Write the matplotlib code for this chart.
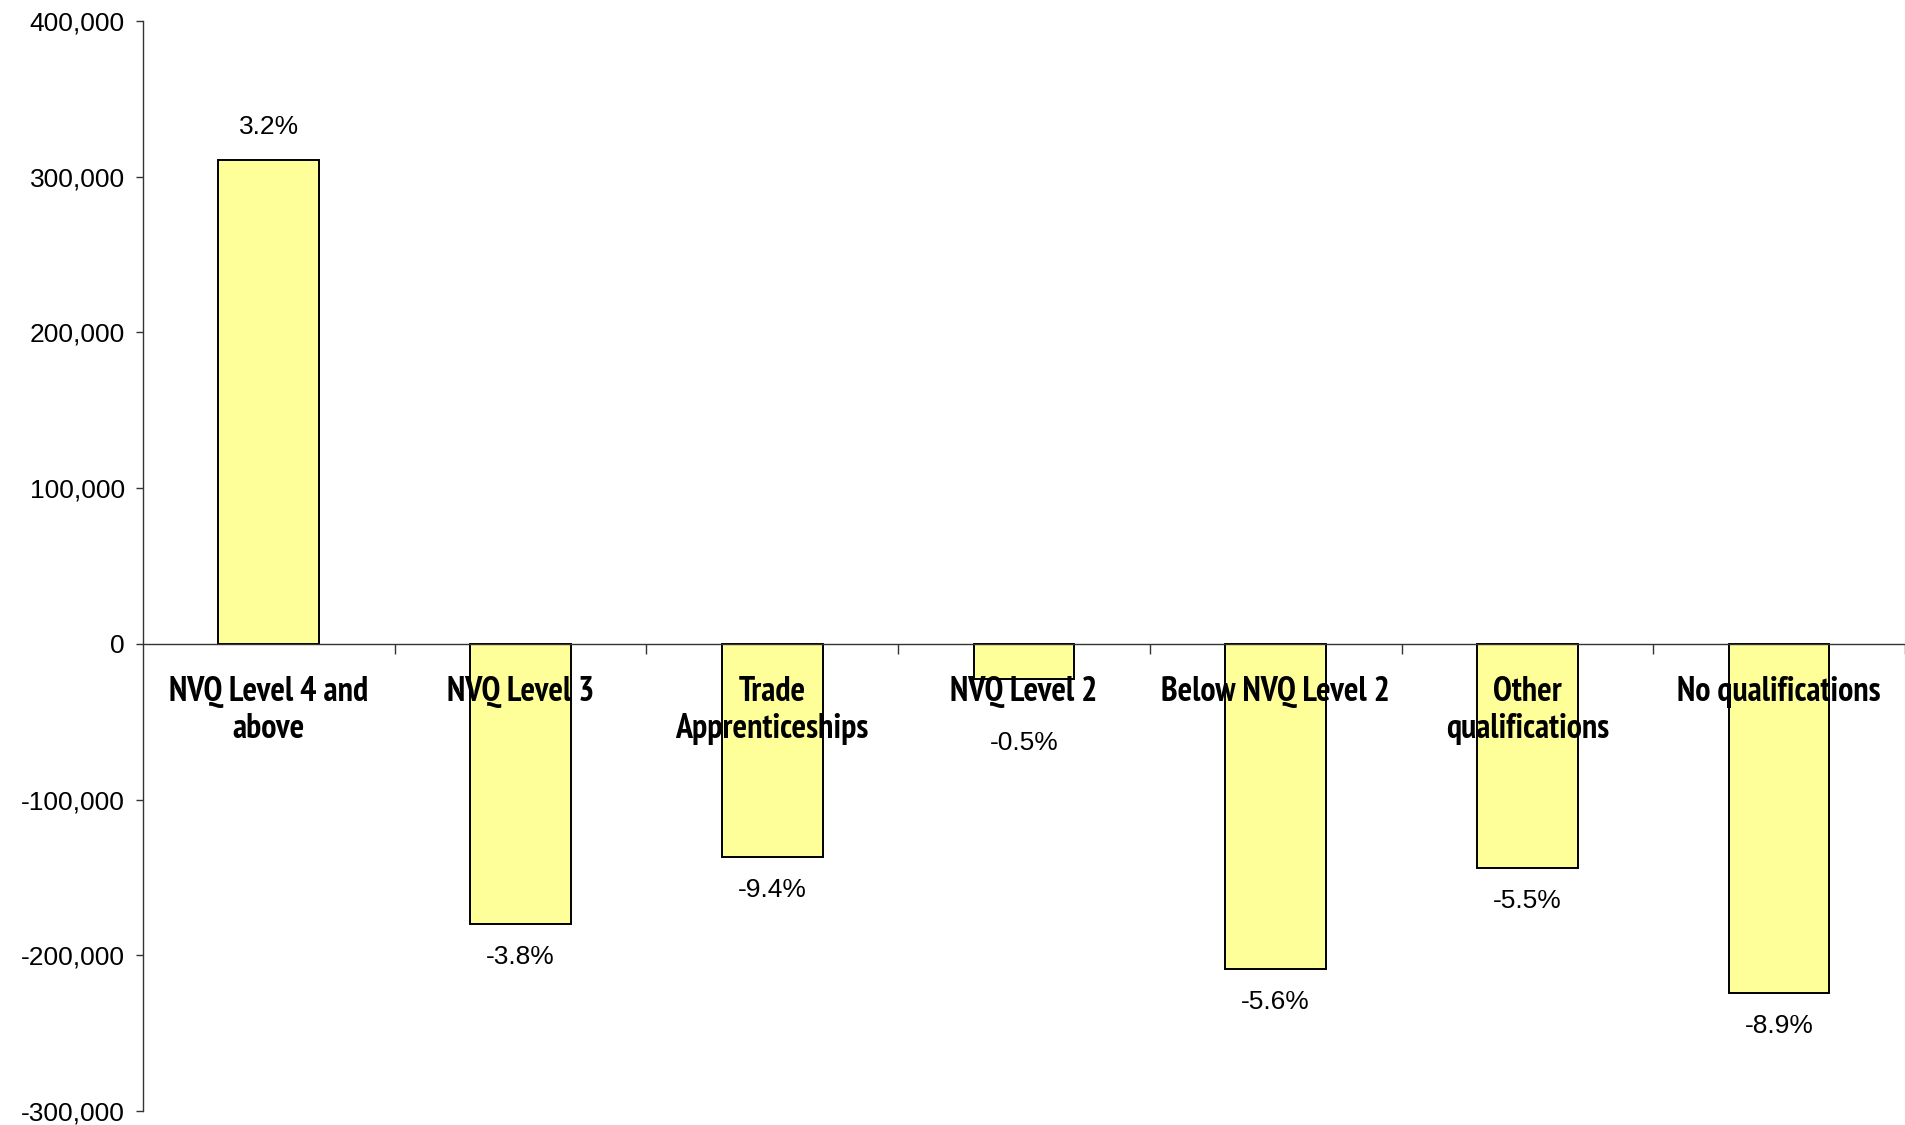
import matplotlib
matplotlib.use("Agg")
import matplotlib.pyplot as plt
from matplotlib.ticker import FuncFormatter, FixedLocator

CATEGORIES = [
    "NVQ Level 4 and\nabove",
    "NVQ Level 3",
    "Trade\nApprenticeships",
    "NVQ Level 2",
    "Below NVQ Level 2",
    "Other\nqualifications",
    "No qualifications",
]
CHANGE = [311000, -180000, -137000, -22500, -209000, -144000, -224500]
PCT_LABELS = ["3.2%", "-3.8%", "-9.4%", "-0.5%", "-5.6%", "-5.5%", "-8.9%"]
YTICKS = [-300000, -200000, -100000, 0, 100000, 200000, 300000, 400000]

PX = 72 / 100  # points per pixel at dpi=100
NARROW = ["Liberation Sans Narrow", "PT Sans Narrow", "Pragati Narrow", "Liberation Sans"]

plt.rcParams["font.family"] = ["Liberation Sans", "DejaVu Sans"]

fig = plt.figure(figsize=(19.05, 11.25), dpi=100)
ax = fig.add_axes([0.075, 0.0124, 0.925, 0.969])

x = range(len(CATEGORIES))
ax.bar(x, CHANGE, width=0.4, color="#FFFF99", edgecolor="black",
       linewidth=1.4, zorder=1)

ax.set_xlim(-0.5, len(CATEGORIES) - 0.5)
ax.set_ylim(YTICKS[0], YTICKS[-1])

for side in ("top", "right"):
    ax.spines[side].set_visible(False)
ax.spines["bottom"].set_position(("data", 0))
for side in ("bottom", "left"):
    ax.spines[side].set_linewidth(1.0)
    ax.spines[side].set_color("#333333")

ax.yaxis.set_major_locator(FixedLocator(YTICKS))
ax.yaxis.set_major_formatter(FuncFormatter(lambda v, _: f"{int(v):,}"))
ax.tick_params(axis="y", direction="out", length=5, width=1.0,
               color="#333333", pad=8, labelsize=19)

# category labels sit at bar centres, tick marks at category boundaries
ax.set_xticks(list(x))
ax.set_xticklabels(CATEGORIES, fontfamily=NARROW, fontweight="bold",
                   fontsize=24.5, linespacing=1.22)
ax.set_xticks([i + 0.5 for i in range(len(CATEGORIES))], minor=True)
ax.tick_params(axis="x", which="major", length=0, pad=23)
ax.tick_params(axis="x", which="minor", direction="out", length=7,
               width=1.0, color="#333333")

for i, (v, lab) in enumerate(zip(CHANGE, PCT_LABELS)):
    if v >= 0:
        ax.annotate(lab, (i, v), xytext=(0, 33 * PX), textcoords="offset points",
                    ha="center", va="center", fontsize=19)
    elif v > -50000:
        # short bar: keep the label clear of the category text
        ax.annotate(lab, (i, 0), xytext=(0, -99 * PX), textcoords="offset points",
                    ha="center", va="center", fontsize=19)
    else:
        ax.annotate(lab, (i, v), xytext=(0, -33 * PX), textcoords="offset points",
                    ha="center", va="center", fontsize=19)

fig.savefig("out.png", dpi=100)
